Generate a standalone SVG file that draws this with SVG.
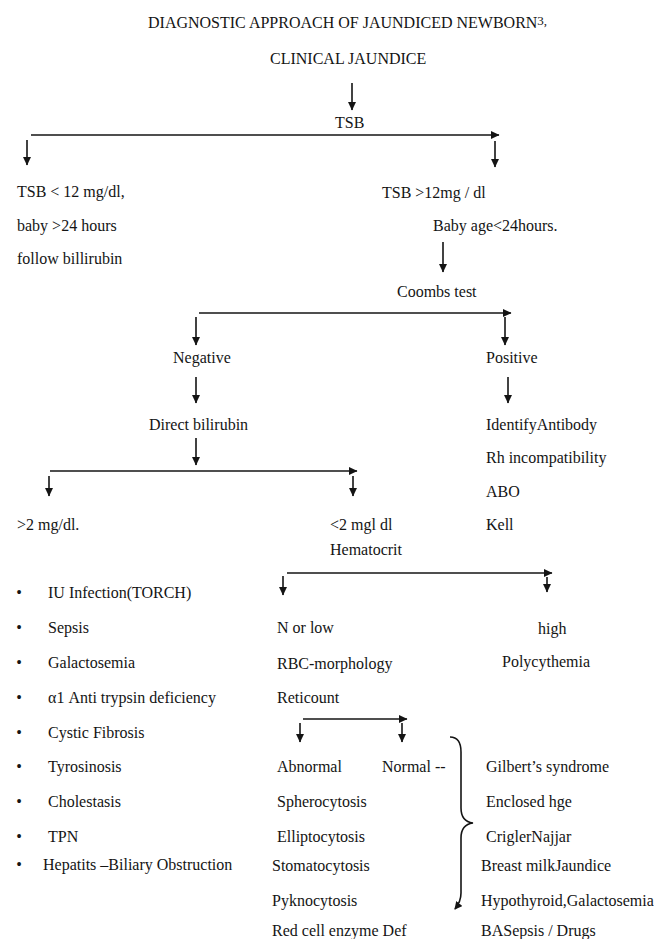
<svg xmlns="http://www.w3.org/2000/svg" width="654" height="939" viewBox="0 0 654 939">
<style>
text{font-family:"Liberation Serif","Times New Roman",serif;font-size:16px;fill:#141414}
.c line,.c path{stroke:#141414;stroke-width:1.6;fill:none}
.c line{marker-end:url(#ah)}
.sup{font-size:13px}
</style>
<defs>
<marker id="ah" markerUnits="userSpaceOnUse" markerWidth="9" markerHeight="8" refX="8" refY="4" orient="auto" viewBox="0 0 9 8">
<path d="M0,0 L8.5,4 L0,8 z" fill="#141414"/>
</marker>
<marker id="ah2" markerUnits="userSpaceOnUse" markerWidth="9" markerHeight="8" refX="7" refY="4" orient="auto" viewBox="0 0 9 8">
<path d="M0,0 L8,4 L0,8 z" fill="#141414"/>
</marker>
</defs>
<rect width="654" height="939" fill="#fff"/>
<g id="title"><text x="148" y="28">DIAGNOSTIC APPROACH OF JAUNDICED NEWBORN<tspan class="sup" dy="-3">3,</tspan></text></g>
<g id="clinical"><text x="270" y="64">CLINICAL JAUNDICE</text></g>
<g id="tsb"><text x="335" y="128">TSB</text></g>
<g id="tsb-low"><text x="17" y="197">TSB &lt; 12 mg/dl,</text><text x="17" y="231">baby &gt;24 hours</text><text x="17" y="264">follow billirubin</text></g>
<g id="tsb-high"><text x="382" y="198">TSB &gt;12mg / dl</text><text x="433" y="231">Baby age&lt;24hours.</text></g>
<g id="coombs"><text x="397" y="297">Coombs test</text></g>
<g id="negative"><text x="173" y="363">Negative</text></g>
<g id="positive"><text x="486" y="363">Positive</text></g>
<g id="direct"><text x="149" y="430">Direct bilirubin</text></g>
<g id="antibody"><text x="486" y="430">IdentifyAntibody</text><text x="486" y="463">Rh incompatibility</text><text x="486" y="497">ABO</text><text x="486" y="530">Kell</text></g>
<g id="gt2"><text x="17" y="530">&gt;2 mg/dl.</text></g>
<g id="lt2"><text x="330" y="530">&lt;2 mgl dl</text><text x="330" y="555">Hematocrit</text></g>
<g id="causes">
<text x="19" y="598" text-anchor="middle">•</text><text x="48" y="598">IU Infection(TORCH)</text>
<text x="19" y="633" text-anchor="middle">•</text><text x="48" y="633">Sepsis</text>
<text x="19" y="668" text-anchor="middle">•</text><text x="48" y="668">Galactosemia</text>
<text x="19" y="703" text-anchor="middle">•</text><text x="48" y="703">α1 Anti trypsin deficiency</text>
<text x="19" y="738" text-anchor="middle">•</text><text x="48" y="738">Cystic Fibrosis</text>
<text x="19" y="772" text-anchor="middle">•</text><text x="48" y="772">Tyrosinosis</text>
<text x="19" y="807" text-anchor="middle">•</text><text x="48" y="807">Cholestasis</text>
<text x="19" y="842" text-anchor="middle">•</text><text x="48" y="842">TPN</text>
<text x="19" y="870" text-anchor="middle">•</text><text x="43" y="870">Hepatits –Biliary Obstruction</text>
</g>
<g id="nlow"><text x="277" y="633">N or low</text><text x="277" y="669">RBC-morphology</text><text x="277" y="703">Reticount</text></g>
<g id="high"><text x="538" y="634">high</text><text x="502" y="667">Polycythemia</text></g>
<g id="abnormal"><text x="277" y="772">Abnormal</text><text x="277" y="807">Spherocytosis</text><text x="277" y="842">Elliptocytosis</text><text x="272" y="871">Stomatocytosis</text><text x="272" y="906">Pyknocytosis</text><text x="272" y="936">Red cell enzyme Def</text></g>
<g id="normal"><text x="382" y="772">Normal  --</text></g>
<g id="normal-causes"><text x="486" y="772">Gilbert’s syndrome</text><text x="486" y="807">Enclosed hge</text><text x="486" y="842">CriglerNajjar</text><text x="481" y="871">Breast milkJaundice</text><text x="481" y="906">Hypothyroid,Galactosemia</text><text x="481" y="936">BASepsis / Drugs</text></g>
<g id="connectors" class="c">
<line x1="352" y1="83" x2="352" y2="110"/>
<line x1="31" y1="135" x2="499" y2="135"/>
<line x1="27" y1="140" x2="27" y2="165"/>
<line x1="495" y1="141" x2="495" y2="167"/>
<line x1="443" y1="242" x2="443" y2="272"/>
<line x1="199" y1="313" x2="511" y2="313"/>
<line x1="196" y1="317" x2="196" y2="345"/>
<line x1="505" y1="317" x2="505" y2="345"/>
<line x1="196" y1="377" x2="196" y2="403"/>
<line x1="508" y1="377" x2="508" y2="403"/>
<line x1="196" y1="438" x2="196" y2="465"/>
<line x1="50" y1="471" x2="357" y2="471"/>
<line x1="49" y1="476" x2="49" y2="496"/>
<line x1="353" y1="476" x2="353" y2="496"/>
<line x1="287" y1="573" x2="552" y2="573"/>
<line x1="283" y1="576" x2="283" y2="595"/>
<line x1="547" y1="577" x2="547" y2="592"/>
<line x1="303" y1="719" x2="407" y2="719"/>
<line x1="300" y1="723" x2="300" y2="742"/>
<line x1="402" y1="723" x2="402" y2="742"/>
<path d="M450,737 C458,737 461,742 461,752 L461,808 C461,817 465,822 473,823 C465,824 461,829 461,838 L461,893 C461,900 459,904 455,909" stroke-width="1.3" marker-end="url(#ah2)"/>
</g>
</svg>
